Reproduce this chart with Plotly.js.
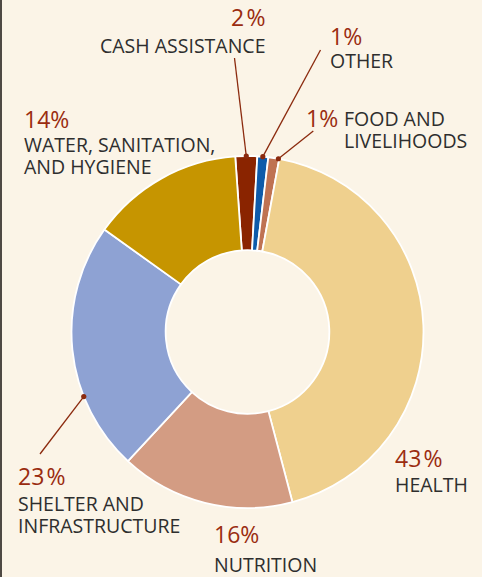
<!DOCTYPE html>
<html>
<head>
<meta charset="utf-8">
<script src="https://cdn.plot.ly/plotly-3.0.1.min.js"></script>
<style>
  html, body { margin: 0; padding: 0; background: #FBF4E7; }
  #chart { width: 482px; height: 577px; }
</style>
</head>
<body>
<div id="chart"></div>
<script>
// ---- data ----
const categories = ['CASH ASSISTANCE', 'OTHER', 'FOOD AND LIVELIHOODS', 'HEALTH', 'NUTRITION', 'SHELTER AND INFRASTRUCTURE', 'WATER, SANITATION, AND HYGIENE'];
const values = [2, 1, 1, 43, 16, 23, 14];
const pctLabels = ['2%', '1%', '1%', '43%', '16%', '23%', '14%'];
const nameLines = [['CASH ASSISTANCE'], ['OTHER'], ['FOOD AND', 'LIVELIHOODS'], ['HEALTH'], ['NUTRITION'], ['SHELTER AND', 'INFRASTRUCTURE'], ['WATER, SANITATION,', 'AND HYGIENE']];
const colors = ['#8A2400', '#0E5BAA', '#BF7252', '#EFD08E', '#D39C83', '#8EA2D3', '#C69500'];

// ---- layout geometry (pixels) ----
const W = 482, H = 577;
const CX = 247.5, CY = 332, R = 176;
const ROT = -4;
const FONT = 'Open Sans, sans-serif';
const PCT_COLOR = '#9A2C10';
const NAME_COLOR = '#2E2E2E';
const LEADER = '#8B2A0E';
const PCT_FS = 23, NAME_FS = 19.5, PITCH = 22;

// label placement per category: align, x edge, cap top of pct, cap top of name
const place = [
  {align: 'right', x: 265, pctTop: 8.3, nameTop: 37.7, leader: {f: 0.5, to: [234.5, 58]}},
  {align: 'left', x: 329.5, pctTop: 26.7, nameTop: 52.7, leader: {f: 0.5, to: [320.5, 50]}},
  {align: 'left', x: 306, pctTop: 109.5, nameX: 344, nameTop: 110.7, leader: {f: 0.92, to: [313.3, 131]}},
  {align: 'left', x: 394.5, pctTop: 449, nameTop: 477.3},
  {align: 'left', x: 214, pctTop: 525, nameTop: 556.5},
  {align: 'left', x: 17.5, pctTop: 467.3, nameTop: 496, leader: {f: 0.31, to: [40, 454]}},
  {align: 'left', x: 23.5, pctTop: 110, nameTop: 136.5}
];

const px = x => x / W;
const py = y => 1 - y / H;
const boxTop = (capTop, fs) => capTop - 1 - 0.355 * fs;
// the reference face sets a small gap before % except after the narrow "1"
const fmtPct = s => (s.indexOf('1') === -1 ? s.replace('%', '\u200A%') : s);

const annotations = [];
const shapes = [];

// left border rule
shapes.push({type: 'rect', xref: 'paper', yref: 'paper', x0: 0, x1: px(2), y0: 0, y1: 1,
  fillcolor: '#4E4944', line: {width: 0}, layer: 'above'});

const total = values.reduce((a, b) => a + b, 0);
let cum = 0;
values.forEach((v, i) => {
  const p = place[i];
  const start = ROT + 360 * cum / total;
  const span = 360 * v / total;
  cum += v;
  const anchor = p.align;
  const xoff = anchor === 'left' ? -2 : 2;
  annotations.push({
    xref: 'paper', yref: 'paper', x: px(p.x + xoff), y: py(boxTop(p.pctTop, PCT_FS)),
    xanchor: anchor, yanchor: 'top', showarrow: false, text: fmtPct(pctLabels[i]),
    font: {family: FONT, size: PCT_FS, color: PCT_COLOR}
  });
  const nx = p.nameX !== undefined ? p.nameX : p.x;
  // line breaks are sized by the annotation font (PITCH/1.3), glyphs by the span size
  annotations.push({
    xref: 'paper', yref: 'paper', x: px(nx + xoff), y: py(boxTop(p.nameTop, NAME_FS)),
    xanchor: anchor, yanchor: 'top', align: anchor, showarrow: false,
    text: nameLines[i].map(l => '<span style="font-size:' + NAME_FS + 'px">' + l + '</span>').join('<br>'),
    font: {family: FONT, size: PITCH / 1.3, color: NAME_COLOR}
  });
  if (p.leader) {
    const a = (start + p.leader.f * span) * Math.PI / 180;
    const sx = CX + R * Math.sin(a), sy = CY - R * Math.cos(a);
    shapes.push({type: 'line', xref: 'paper', yref: 'paper',
      x0: px(sx), y0: py(sy), x1: px(p.leader.to[0]), y1: py(p.leader.to[1]),
      line: {color: LEADER, width: 1.3}, layer: 'above'});
    const dr = 2.6;
    shapes.push({type: 'circle', xref: 'paper', yref: 'paper',
      x0: px(sx - dr), x1: px(sx + dr), y0: py(sy + dr), y1: py(sy - dr),
      fillcolor: LEADER, line: {width: 0}, layer: 'above'});
  }
});

const trace = {
  type: 'pie',
  labels: categories,
  values: values,
  sort: false,
  direction: 'clockwise',
  rotation: ROT,
  hole: 0.465,
  textinfo: 'none',
  hoverinfo: 'none',
  showlegend: false,
  marker: {colors: colors, line: {color: '#FFFFFF', width: 1.8}},
  domain: {x: [px(CX - R), px(CX + R)], y: [py(CY + R), py(CY - R)]}
};

const layout = {
  width: W, height: H,
  margin: {l: 0, r: 0, t: 0, b: 0},
  paper_bgcolor: '#FBF4E7',
  plot_bgcolor: '#FBF4E7',
  showlegend: false,
  annotations: annotations,
  shapes: shapes
};

Plotly.newPlot('chart', [trace], layout, {displayModeBar: false, staticPlot: true});
</script>
</body>
</html>
